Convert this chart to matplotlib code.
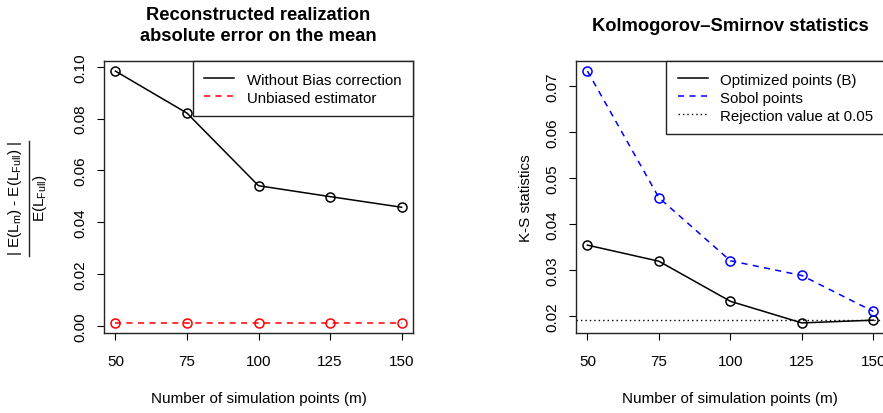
import matplotlib
matplotlib.use("Agg")
import matplotlib.pyplot as plt
from matplotlib.lines import Line2D

# valores
simPoints = [50, 75, 100, 125, 150]
errWithoutBias = [0.0983, 0.0821, 0.0541, 0.0499, 0.0458]
errUnbiased = [0.0012, 0.0012, 0.0012, 0.0012, 0.0012]
ksOptimized = [0.0354, 0.0319, 0.0232, 0.0185, 0.0191]
ksSobol = [0.0732, 0.0457, 0.0320, 0.0288, 0.0210]
rejectionValue = 0.0192

plt.rcParams["font.family"] = ["Liberation Sans", "DejaVu Sans"]
plt.rcParams["mathtext.fontset"] = "custom"
plt.rcParams["mathtext.rm"] = "Liberation Sans"
plt.rcParams["mathtext.it"] = "Liberation Sans"
plt.rcParams["mathtext.bf"] = "Liberation Sans:bold"

W, H = 883, 414
fig = plt.figure(figsize=(W / 100, H / 100), dpi=100)
TXT = 11


def px_axes(x0, y0, x1, y1):
    return fig.add_axes([x0 / W, 1 - y1 / H, (x1 - x0) / W, (y1 - y0) / H])


def style_axes(ax):
    for s in ax.spines.values():
        s.set_linewidth(1.0)
        s.set_color("#222222")
    ax.tick_params(direction="out", length=5, width=0.8, labelsize=TXT,
                   top=False, right=False)
    ax.tick_params(axis="x", pad=10)
    ax.tick_params(axis="y", pad=7)
    for lab in ax.get_yticklabels():
        lab.set_rotation(90)
        lab.set_va("center")


def add_legend(ax, handles, labels):
    leg = ax.legend(handles, labels, loc="upper right", borderaxespad=0,
                    fancybox=False, framealpha=1, edgecolor="#222222",
                    fontsize=10.8, handlelength=2.0, handleheight=1.0,
                    handletextpad=0.85, labelspacing=0.2, borderpad=0.75)
    leg.get_frame().set_linewidth(1.0)


circle = dict(marker="o", markersize=6.5, markerfacecolor="none", markeredgewidth=1.1)
dash = (4, 3.5)

# painel esquerdo
ax1 = px_axes(104, 62, 413, 334)
ax1.plot(simPoints, errWithoutBias, color="black", lw=1.1,
         markeredgecolor="black", **circle)
ax1.plot(simPoints, errUnbiased, color="red", lw=1.1, dashes=dash,
         markeredgecolor="red", **circle)
ax1.set_xlim(46, 154)
ax1.set_ylim(-0.0027, 0.1022)
ax1.set_xticks(simPoints)
ax1.set_yticks([0.0, 0.02, 0.04, 0.06, 0.08, 0.10])
ax1.set_yticklabels(["0.00", "0.02", "0.04", "0.06", "0.08", "0.10"])
style_axes(ax1)
ax1.set_title("Reconstructed realization\nabsolute error on the mean",
              fontsize=13.2, fontweight="bold", pad=15, linespacing=1.3)
ax1.set_xlabel("Number of simulation points (m)", fontsize=TXT, labelpad=17)
add_legend(ax1,
           [Line2D([], [], color="black", lw=1.1),
            Line2D([], [], color="red", lw=1.1, dashes=dash)],
           ["Without Bias correction", "Unbiased estimator"])

# rotulo do eixo y em forma de fracao
fig.text(15 / W, 1 - 198 / H, r"| E(L$_\mathregular{m}$) - E(L$_\mathregular{Full}$) |",
         rotation=90, ha="center", va="center", fontsize=TXT)
fig.text(40 / W, 1 - 198 / H, r"E(L$_\mathregular{Full}$)",
         rotation=90, ha="center", va="center", fontsize=TXT)
fig.add_artist(Line2D([29 / W, 29 / W], [1 - 142 / H, 1 - 257 / H],
                      color="#222222", lw=1.0, transform=fig.transFigure))

# painel direito
ax2 = px_axes(576, 62, 884.7, 334)
ax2.plot(simPoints, ksOptimized, color="black", lw=1.1,
         markeredgecolor="black", **circle)
ax2.plot(simPoints, ksSobol, color="blue", lw=1.1, dashes=dash,
         markeredgecolor="blue", **circle)
ax2.axhline(rejectionValue, color="black", lw=1.0, dashes=(1, 2.2))
ax2.set_xlim(46, 154)
ax2.set_ylim(0.01631, 0.07539)
ax2.set_xticks(simPoints)
ax2.set_yticks([0.02, 0.03, 0.04, 0.05, 0.06, 0.07])
ax2.set_yticklabels(["0.02", "0.03", "0.04", "0.05", "0.06", "0.07"])
style_axes(ax2)
ax2.set_title("Kolmogorov\u2013Smirnov statistics", fontsize=13.2,
              fontweight="bold", pad=22)
ax2.set_xlabel("Number of simulation points (m)", fontsize=TXT, labelpad=17)
ax2.set_ylabel("K-S statistics", fontsize=TXT, labelpad=9)
add_legend(ax2,
           [Line2D([], [], color="black", lw=1.1),
            Line2D([], [], color="blue", lw=1.1, dashes=dash),
            Line2D([], [], color="black", lw=1.0, dashes=(1, 2.2))],
           ["Optimized points (B)", "Sobol points", "Rejection value at 0.05"])

fig.savefig("out.png", dpi=100)
